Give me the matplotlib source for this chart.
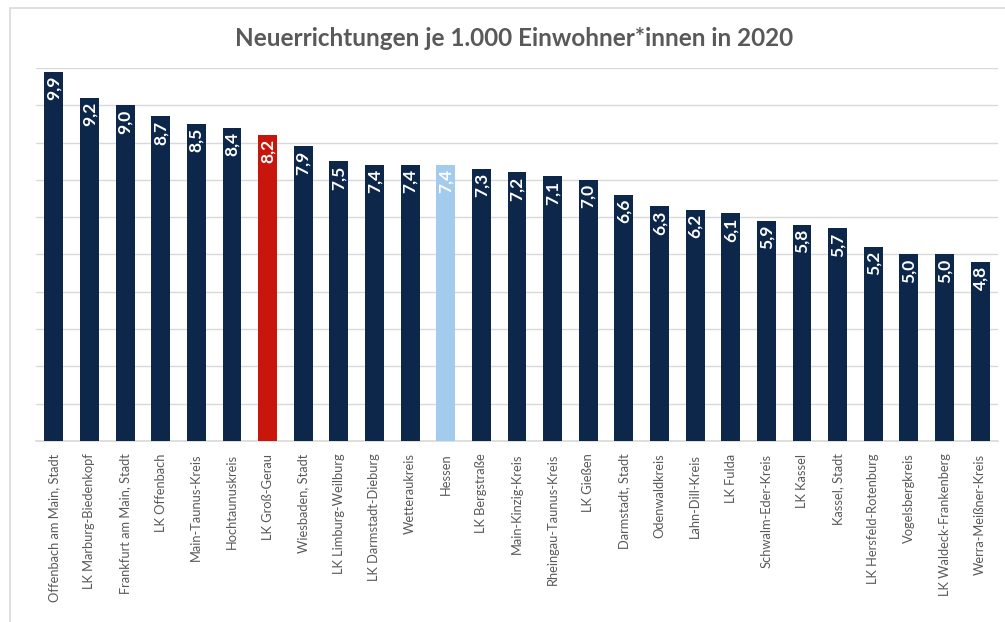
import matplotlib
matplotlib.use("Agg")
import matplotlib.pyplot as plt
from matplotlib.patches import Rectangle

categories = [
    "Offenbach am Main, Stadt", "LK Marburg-Biedenkopf", "Frankfurt am Main, Stadt",
    "LK Offenbach", "Main-Taunus-Kreis", "Hochtaunuskreis", "LK Groß-Gerau",
    "Wiesbaden, Stadt", "LK Limburg-Weilburg", "LK Darmstadt-Dieburg", "Wetteraukreis",
    "Hessen", "LK Bergstraße", "Main-Kinzig-Kreis", "Rheingau-Taunus-Kreis", "LK Gießen",
    "Darmstadt, Stadt", "Odenwaldkreis", "Lahn-Dill-Kreis", "LK Fulda",
    "Schwalm-Eder-Kreis", "LK Kassel", "Kassel, Stadt", "LK Hersfeld-Rotenburg",
    "Vogelsbergkreis", "LK Waldeck-Frankenberg", "Werra-Meißner-Kreis",
]
values = [9.9, 9.2, 9.0, 8.7, 8.5, 8.4, 8.2, 7.9, 7.5, 7.4, 7.4, 7.4, 7.3, 7.2,
          7.1, 7.0, 6.6, 6.3, 6.2, 6.1, 5.9, 5.8, 5.7, 5.2, 5.0, 5.0, 4.8]
title = "Neuerrichtungen je 1.000 Einwohner*innen in 2020"

NAVY = "#0C2749"
RED = "#C8160C"
LIGHT = "#A3CBEE"
colors = []
for c in categories:
    if c == "LK Groß-Gerau":
        colors.append(RED)
    elif c == "Hessen":
        colors.append(LIGHT)
    else:
        colors.append(NAVY)

plt.rcParams['font.family'] = ['Lato', 'DejaVu Sans']

fig = plt.figure(figsize=(10.05, 6.22), dpi=100)
W, H = 1005, 622

# outer chart frame
fig.patches.append(Rectangle((10 / W, -0.1), 1.2, 1 - 8 / H + 0.1,
                             transform=fig.transFigure, fill=False,
                             edgecolor="#D9D9D9", linewidth=1.2))

ax = fig.add_axes([36 / W, 1 - 441 / H, (998 - 36) / W, (441 - 68) / H])
x = list(range(len(categories)))
bars = ax.bar(x, values, width=0.53, color=colors, zorder=3)

ax.set_xlim(-0.5, len(categories) - 0.5)
ax.set_ylim(0, 10)
ax.set_yticks(range(0, 11))
ax.yaxis.grid(True, color="#D9D9D9", linewidth=1.0, zorder=0)
ax.set_yticklabels([])
ax.tick_params(axis='y', length=0)
for s in ["top", "right", "left"]:
    ax.spines[s].set_visible(False)
ax.spines["bottom"].set_color("#D9D9D9")
ax.spines["bottom"].set_linewidth(1.2)

ax.set_xticks(x)
ax.set_xticklabels(categories, rotation=90, fontsize=9.3, color="#595959")
ax.tick_params(axis='x', length=0, pad=9)

for xi, v in zip(x, values):
    ax.annotate(f"{v:.1f}".replace(".", ","), (xi, v), xytext=(0, -3),
                textcoords="offset points", rotation=90, ha="center", va="top",
                color="white", fontsize=12.5, fontweight="bold", zorder=4)

fig.text(514 / W, 1 - 38 / H, title, ha="center", va="center",
         fontsize=17.5, fontweight="bold", color="#595959")

fig.savefig("out.png", dpi=100)
